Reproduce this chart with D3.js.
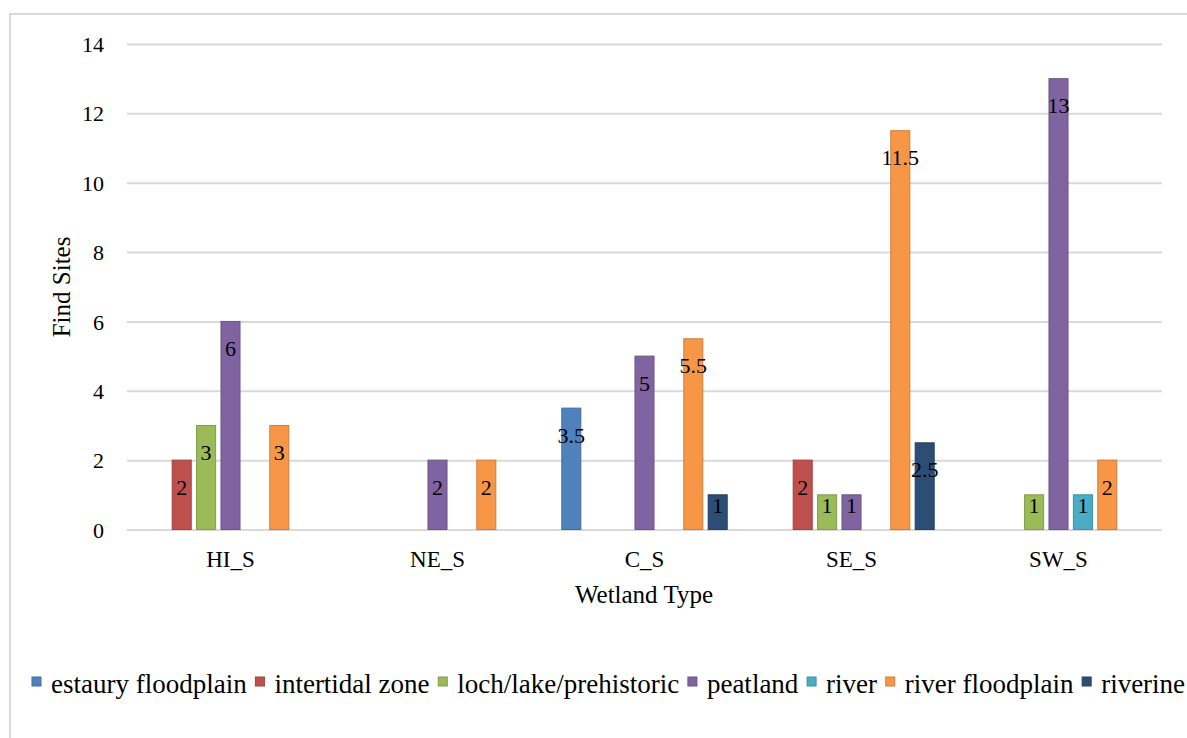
<!DOCTYPE html>
<html>
<head>
<meta charset="utf-8">
<script src="https://cdn.jsdelivr.net/npm/d3@7"></script>
</head>
<body style="margin:0;padding:0;background:#fff">
<div id="wrap" style="position:relative;width:1187px;height:738px;overflow:hidden">
  <svg id="chart" width="1187" height="738" style="display:block;position:absolute;left:0;top:0"></svg>
  <div id="labels" style="position:absolute;left:0;top:0;width:1187px;height:738px"></div>
</div>
<script>
// Wetland types (x categories)
const categories = ["HI_S", "NE_S", "C_S", "SE_S", "SW_S"];

// Find-site series (null = no finds recorded)
const seriesNames = ["estaury floodplain", "intertidal zone", "loch/lake/prehistoric", "peatland", "river", "river floodplain", "riverine"];
const estauryFloodplain   = [null, null, 3.5, null, null];
const intertidalZone      = [2, null, null, 2, null];
const lochLakePrehistoric = [3, null, null, 1, 1];
const peatland            = [6, 2, 5, 1, 13];
const river               = [null, null, null, null, 1];
const riverFloodplain     = [3, 2, 5.5, 11.5, 2];
const riverine            = [null, null, 1, 2.5, null];
const seriesValues = [estauryFloodplain, intertidalZone, lochLakePrehistoric, peatland, river, riverFloodplain, riverine];

const seriesColors = ["#4f81bd", "#c0504d", "#9bbb59", "#8064a2", "#4bacc6", "#f79646", "#2c4d75"];
const yTicks = [0, 2, 4, 6, 8, 10, 12, 14];

const svg = d3.select("#chart");
const labels = d3.select("#labels");

// Text is laid out as HTML in the serif face; positioned by baseline.
const ASC = 0.8375; // baseline offset within a line box of line-height 1 (Liberation Serif)
function label(text, x, baseline, size, anchor = "middle", rotate = 0) {
  const shift = anchor === "middle" ? "-50%" : anchor === "end" ? "-100%" : "0";
  const el = labels.append("div").text(text);
  const st = el.node().style;
  st.setProperty("font-family", '"Liberation Serif", "Times New Roman", serif', "important");
  st.setProperty("font-size", size + "px", "important");
  st.setProperty("line-height", size + "px", "important");
  st.position = "absolute";
  st.whiteSpace = "nowrap";
  st.color = "#000";
  st.left = x + "px";
  st.top = (baseline - ASC * size) + "px";
  if (rotate) {
    st.transformOrigin = `0 ${ASC * size}px`;
    st.transform = `rotate(${rotate}deg) translateX(${shift})`;
  } else {
    st.transform = `translateX(${shift})`;
  }
  return el;
}

// outer chart frame
svg.append("rect")
  .attr("x", 10).attr("y", 14).attr("width", 1300).attr("height", 900)
  .attr("fill", "none").attr("stroke", "#d9d9d9").attr("stroke-width", 2);

const plot = { left: 127, right: 1162, top: 44, bottom: 529.5 };

const y = d3.scaleLinear().domain([0, 14]).range([plot.bottom, plot.top]);
const x0 = d3.scaleBand().domain(categories).range([plot.left, plot.right])
  .paddingInner(0.175).paddingOuter(0.0875);
const x1 = d3.scaleBand().domain(d3.range(seriesNames.length)).range([0, x0.bandwidth()])
  .paddingInner(0.22).paddingOuter(0.11);

// horizontal gridlines
const yAxis = d3.axisLeft(y).tickValues(yTicks).tickSize(-(plot.right - plot.left)).tickFormat("");
const gy = svg.append("g").attr("transform", `translate(${plot.left},0)`).call(yAxis);
gy.select(".domain").remove();
gy.selectAll(".tick line").attr("stroke", "#d9d9d9").attr("stroke-width", 2);
gy.selectAll(".tick text").remove();

// y tick labels
yTicks.forEach(t => label(String(t), 104, y(t) + 8.5, 22, "end"));

// x category labels
categories.forEach(c => label(c, x0(c) + x0.bandwidth() / 2, 567, 23, "middle"));

// bars
const cells = [];
categories.forEach((c, ci) => {
  seriesValues.forEach((vals, si) => {
    if (vals[ci] != null) cells.push({ cat: c, s: si, v: vals[ci] });
  });
});

svg.append("g").selectAll("rect.bar").data(cells).join("rect")
  .attr("class", "bar")
  .attr("x", d => x0(d.cat) + x1(d.s))
  .attr("y", d => y(d.v))
  .attr("width", x1.bandwidth())
  .attr("height", d => y(0) - y(d.v))
  .attr("fill", d => seriesColors[d.s])
  .attr("stroke", d => d3.color(seriesColors[d.s]).darker(0.5))
  .attr("stroke-width", 1);

// value labels, inside end of each bar
cells.forEach(d => {
  const top = y(d.v), h = y(0) - top;
  label(String(d.v), x0(d.cat) + x1(d.s) + x1.bandwidth() / 2, top + Math.min(35, h - 16), 22, "middle");
});

// axis titles
label("Find Sites", 70, 287, 25, "middle", -90);
label("Wetland Type", 644, 603, 25, "middle");

// legend
let lx = 32;
seriesNames.forEach((name, i) => {
  svg.append("rect")
    .attr("x", lx).attr("y", 677).attr("width", 9).attr("height", 9)
    .attr("fill", seriesColors[i])
    .attr("stroke", d3.color(seriesColors[i]).darker(0.5)).attr("stroke-width", 1);
  const t = label(name, lx + 19, 693.5, 27, "start");
  lx += 19 + t.node().getBoundingClientRect().width + 8.7;
});
</script>
</body>
</html>
